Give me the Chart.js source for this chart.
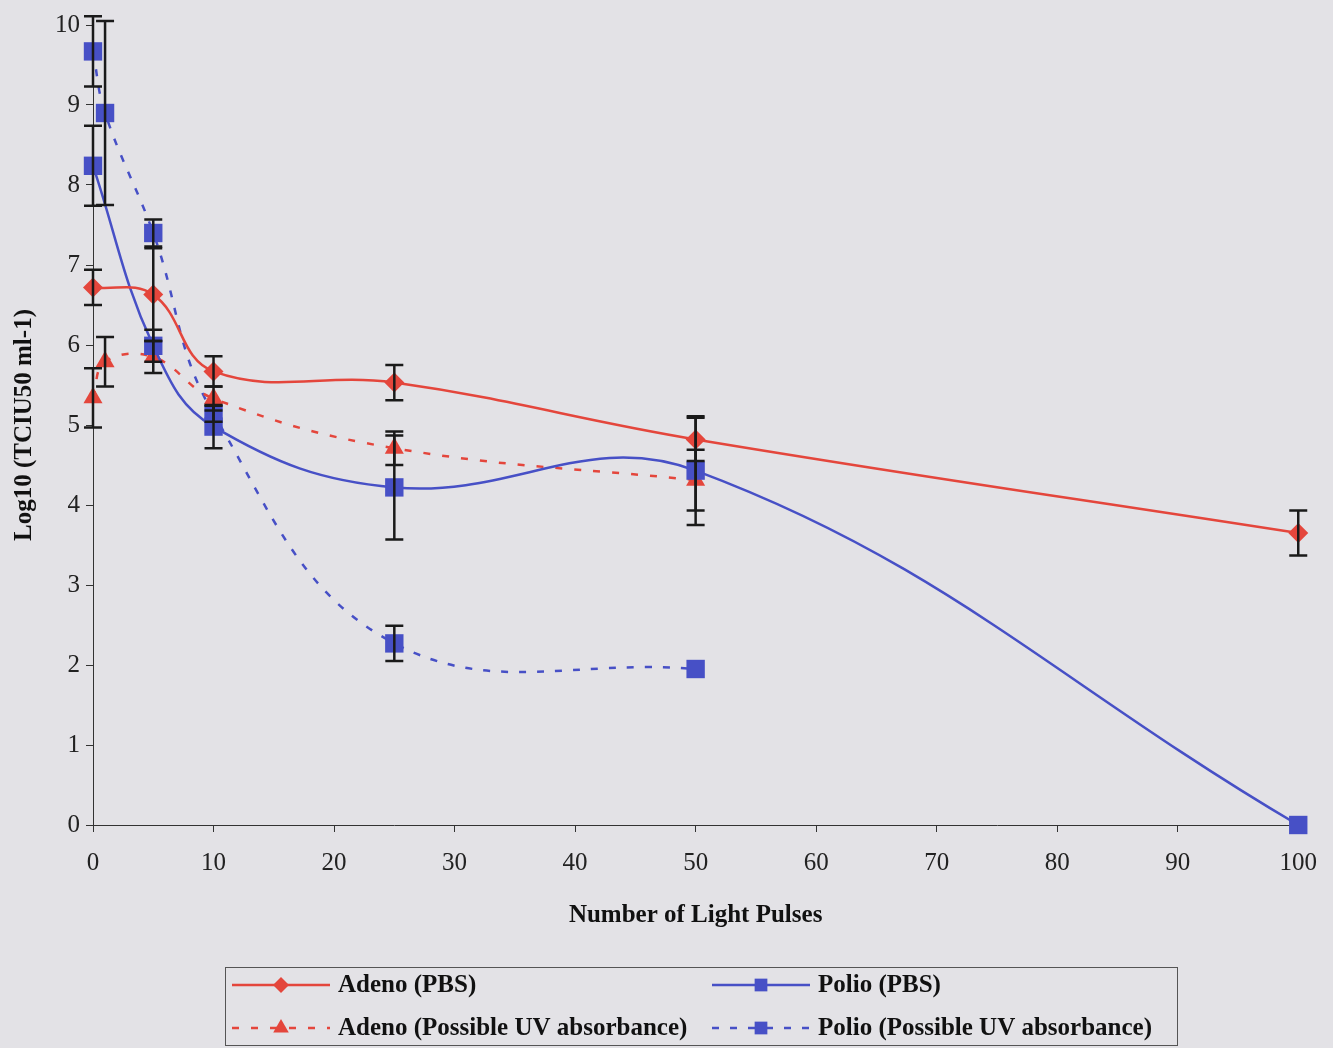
<!DOCTYPE html>
<html>
<head>
<meta charset="utf-8">
<script src="https://cdn.jsdelivr.net/npm/chart.js@4.4.0/dist/chart.umd.min.js"></script>
<style>
  html, body { margin: 0; padding: 0; background: #e3e2e6; }
  #wrap { width: 1333px; height: 1048px; }
</style>
</head>
<body>
<div id="wrap"><canvas id="pulsesChart" width="1333" height="1048"></canvas></div>
<script>
// x values (number of light pulses)
const pulsesPBS = [0, 5, 10, 25, 50, 100];
const pulsesUV = [0, 1, 5, 10, 25, 50];

// log10 titres and error bar half-widths
const adenoPBS = [6.72, 6.63, 5.67, 5.53, 4.82, 3.65];
const adenoPBSErr = [0.22, 0.58, 0.19, 0.22, 0.27, 0.28];
const polioPBS = [8.24, 5.99, 4.98, 4.22, 4.43, 0.0];
const polioPBSErr = [0.5, 0.2, 0.27, 0.65, 0.68, 0];
const adenoUV = [5.34, 5.79, 5.85, 5.33, 4.71, 4.31];
const adenoUVErr = [0.37, 0.31, 0.2, 0.15, 0.21, 0.38];
const polioUV = [9.67, 8.9, 7.4, 5.14, 2.27, 1.95];
const polioUVErr = [0.44, 1.15, 0.17, 0.1, 0.22, 0];

const seriesNames = [
    "Adeno (PBS)",
    "Polio (PBS)",
    "Adeno (Possible UV absorbance)",
    "Polio (Possible UV absorbance)"
];

const RED = "#e4463c";
const BLUE = "#4750c6";
const SERIF = "'Liberation Serif', 'Times New Roman', serif";

function toPoints(xs, ys) {
    return xs.map((x, i) => ({ x: x, y: ys[i] }));
}

// black error bars with caps
const errorBars = {
    id: "errorBars",
    afterDatasetsDraw(chart) {
        const ctx = chart.ctx;
        const yScale = chart.scales.y;
        ctx.save();
        ctx.strokeStyle = "#1a1a1a";
        ctx.lineWidth = 2.5;
        chart.data.datasets.forEach((ds, i) => {
            const meta = chart.getDatasetMeta(i);
            meta.data.forEach((pt, j) => {
                const err = ds.errors[j];
                if (!err) return;
                const v = ds.data[j].y;
                const top = yScale.getPixelForValue(v + err);
                const bot = yScale.getPixelForValue(v - err);
                ctx.beginPath();
                ctx.moveTo(pt.x, top);
                ctx.lineTo(pt.x, bot);
                ctx.moveTo(pt.x - 9, top);
                ctx.lineTo(pt.x + 9, top);
                ctx.moveTo(pt.x - 9, bot);
                ctx.lineTo(pt.x + 9, bot);
                ctx.stroke();
            });
        });
        ctx.restore();
    }
};

// boxed two-column legend under the x axis title
const boxLegend = {
    id: "boxLegend",
    afterDraw(chart) {
        const ctx = chart.ctx;
        const spots = [[232, 985], [712, 985], [232, 1028], [712, 1028]];
        const legendRadius = { rectRot: 8, rect: 9, triangle: 9 };
        ctx.save();
        ctx.strokeStyle = "#555";
        ctx.lineWidth = 1;
        ctx.strokeRect(225.5, 967.5, 952, 78);
        ctx.font = "bold 25px " + SERIF;
        ctx.textBaseline = "middle";
        chart.data.datasets.forEach((ds, i) => {
            const [x, y] = spots[i];
            ctx.strokeStyle = ds.borderColor;
            ctx.lineWidth = 2.5;
            ctx.setLineDash(ds.borderDash || []);
            ctx.beginPath();
            ctx.moveTo(x, y);
            ctx.lineTo(x + 98, y);
            ctx.stroke();
            ctx.setLineDash([]);
            ctx.fillStyle = ds.pointBackgroundColor;
            Chart.helpers.drawPoint(ctx, {
                pointStyle: ds.pointStyle,
                radius: legendRadius[ds.pointStyle],
                rotation: 0,
                borderWidth: 0
            }, x + 49, y);
            ctx.fillStyle = "#111";
            ctx.fillText(seriesNames[i], x + 106, y + 1);
        });
        ctx.restore();
    }
};

const ctx = document.getElementById("pulsesChart").getContext("2d");

new Chart(ctx, {
    type: "line",
    data: {
        datasets: [{
            label: seriesNames[0],
            data: toPoints(pulsesPBS, adenoPBS),
            errors: adenoPBSErr,
            borderColor: RED,
            backgroundColor: RED,
            pointBackgroundColor: RED,
            pointBorderWidth: 0,
            pointStyle: "rectRot",
            pointRadius: 10,
            borderWidth: 2.5,
            tension: 0.4,
            clip: false
        }, {
            label: seriesNames[1],
            data: toPoints(pulsesPBS, polioPBS),
            errors: polioPBSErr,
            borderColor: BLUE,
            backgroundColor: BLUE,
            pointBackgroundColor: BLUE,
            pointBorderWidth: 0,
            pointStyle: "rect",
            pointRadius: 13,
            borderWidth: 2.5,
            tension: 0.4,
            clip: false
        }, {
            label: seriesNames[2],
            data: toPoints(pulsesUV, adenoUV),
            errors: adenoUVErr,
            borderColor: RED,
            backgroundColor: RED,
            pointBackgroundColor: RED,
            pointBorderWidth: 0,
            pointStyle: "triangle",
            pointRadius: 11,
            borderWidth: 2.5,
            borderDash: [7, 12],
            tension: 0.4,
            clip: false
        }, {
            label: seriesNames[3],
            data: toPoints(pulsesUV, polioUV),
            errors: polioUVErr,
            borderColor: BLUE,
            backgroundColor: BLUE,
            pointBackgroundColor: BLUE,
            pointBorderWidth: 0,
            pointStyle: "rect",
            pointRadius: 13,
            borderWidth: 2.5,
            borderDash: [7, 11],
            tension: 0.4,
            clip: false
        }]
    },
    options: {
        responsive: false,
        animation: false,
        layout: { padding: { left: 0, top: 25, right: 30, bottom: 83 } },
        plugins: {
            legend: { display: false },
            tooltip: { enabled: false }
        },
        scales: {
            x: {
                type: "linear",
                min: 0,
                max: 100,
                ticks: {
                    stepSize: 10,
                    padding: 16,
                    color: "#222",
                    font: { family: SERIF, size: 25 }
                },
                grid: { display: true, drawOnChartArea: false, tickLength: 7, color: "#333" },
                border: { color: "#333", width: 1 },
                title: {
                    display: true,
                    text: "Number of Light Pulses",
                    color: "#111",
                    font: { family: SERIF, size: 25, weight: "bold" },
                    padding: { top: 0, bottom: 34 }
                },
                afterFit(scale) { scale.height = 140; }
            },
            y: {
                min: 0,
                max: 10,
                ticks: {
                    stepSize: 1,
                    padding: 6,
                    color: "#222",
                    font: { family: SERIF, size: 25 }
                },
                grid: { display: true, drawOnChartArea: false, tickLength: 7, color: "#333" },
                border: { color: "#333", width: 1 },
                title: {
                    display: true,
                    text: "Log10 (TCIU50 ml-1)",
                    color: "#111",
                    font: { family: SERIF, size: 25, weight: "bold" },
                    padding: { top: 10, bottom: 0 }
                },
                afterFit(scale) { scale.width = 93; }
            }
        }
    },
    plugins: [errorBars, boxLegend]
});
</script>
</body>
</html>
